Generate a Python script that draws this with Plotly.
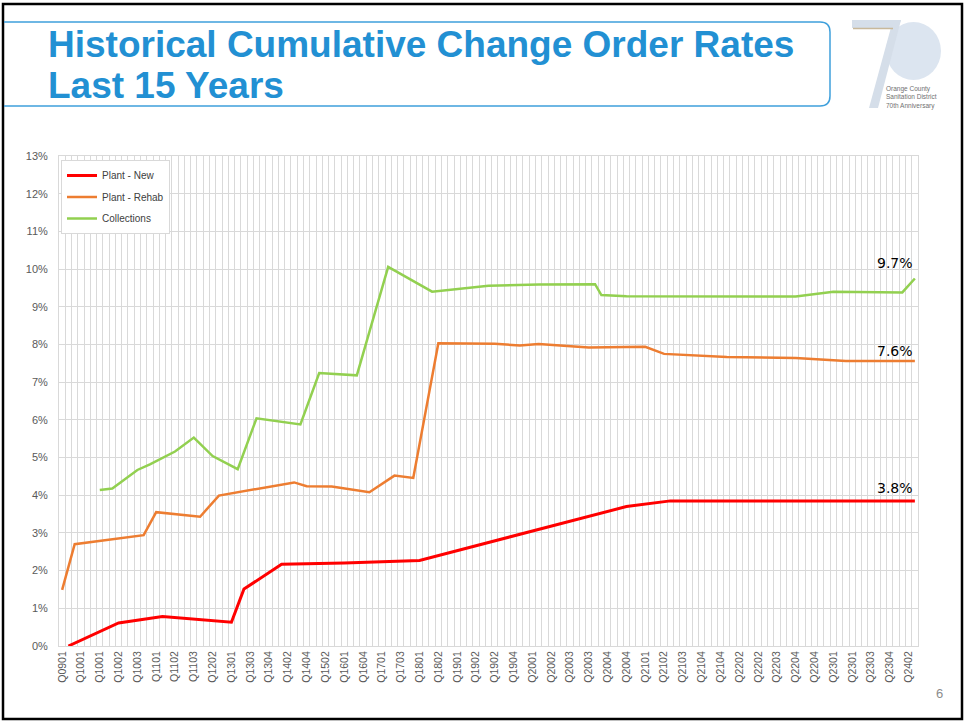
import plotly.graph_objects as go

# quarter labels shown on the axis (every 3rd category)
tick_labels = ["Q0901", "Q1001", "Q1001", "Q1002", "Q1003", "Q1101", "Q1102", "Q1103",
               "Q1202", "Q1301", "Q1303", "Q1304", "Q1402", "Q1404", "Q1502", "Q1601",
               "Q1604", "Q1701", "Q1703", "Q1801", "Q1802", "Q1901", "Q1902", "Q1902",
               "Q1904", "Q2001", "Q2002", "Q2003", "Q2003", "Q2004", "Q2004", "Q2101",
               "Q2102", "Q2103", "Q2104", "Q2104", "Q2202", "Q2202", "Q2203", "Q2204",
               "Q2204", "Q2301", "Q2301", "Q2303", "Q2304", "Q2402"]
n_cat = 137

# category index / cumulative change order rate (%)
new_x = [1, 9, 16, 27, 29, 35, 45, 57, 90, 97, 136]
new_y = [0.0, 0.61, 0.78, 0.63, 1.51, 2.17, 2.20, 2.27, 3.70, 3.85, 3.85]

rehab_x = [0, 2, 13, 15, 22, 25, 37, 39, 43, 49, 53, 56, 60, 69, 73, 76, 84, 93, 96,
           106, 117, 125, 136]
rehab_y = [1.49, 2.70, 2.94, 3.55, 3.43, 3.99, 4.34, 4.24, 4.23, 4.08, 4.52, 4.46, 8.03,
           8.02, 7.97, 8.01, 7.92, 7.94, 7.75, 7.67, 7.64, 7.56, 7.56]

coll_x = [6, 8, 12, 14, 18, 21, 24, 28, 31, 38, 41, 47, 52, 59, 68, 76, 85, 86, 90, 117,
          123, 134, 136]
coll_y = [4.14, 4.18, 4.67, 4.82, 5.16, 5.53, 5.04, 4.69, 6.04, 5.88, 7.24, 7.18, 10.06,
          9.40, 9.56, 9.59, 9.60, 9.31, 9.28, 9.27, 9.40, 9.38, 9.75]

end_labels = ["3.8%", "7.6%", "9.7%"]

# plot area in page pixels
L, R, T, B = 59, 918, 156, 646


def px(x):
    return (x - L) / (R - L)


def py(y):
    return (B - y) / (B - T)


fig = go.Figure()
fig.add_trace(go.Scatter(x=new_x, y=new_y, mode="lines", name="Plant - New",
                         legendgroup="a", line=dict(color="#FF0000", width=3)))
fig.add_trace(go.Scatter(x=rehab_x, y=rehab_y, mode="lines", name="Plant - Rehab",
                         legendgroup="b", line=dict(color="#ED7D31", width=2.5)))
fig.add_trace(go.Scatter(x=coll_x, y=coll_y, mode="lines", name="Collections",
                         legendgroup="c", line=dict(color="#92D050", width=2.5)))

grid = "#D9D9D9"
fig.update_xaxes(range=[-0.5, n_cat - 0.5], tickmode="array",
                 tickvals=list(range(0, 3 * len(tick_labels), 3)), ticktext=tick_labels,
                 tickangle=-90, showgrid=False, ticks="",
                 minor=dict(tickmode="linear", tick0=0.5, dtick=1, showgrid=True,
                            gridcolor=grid, gridwidth=1),
                 showline=True, linecolor=grid, mirror=True, zeroline=False,
                 tickfont=dict(family="Liberation Sans, Arial", size=10.5, color="#595959"))
fig.update_yaxes(range=[0, 13], dtick=1, ticksuffix="%", showgrid=True, gridcolor=grid,
                 showline=True, linecolor=grid, mirror=True, zeroline=False, ticks="",
                 ticklabelstandoff=8,
                 tickfont=dict(family="Liberation Sans, Arial", size=11, color="#595959"))

ann = []
for lab, yy, ys in zip(end_labels, [new_y[-1], rehab_y[-1], coll_y[-1]], [13, 10, 16]):
    ann.append(dict(x=n_cat - 1, y=yy, xref="x", yref="y", text=lab, showarrow=False,
                    xanchor="right", yanchor="middle", yshift=ys,
                    font=dict(family="DejaVu Sans", size=14, color="#000000")))

title_font = dict(family="Liberation Sans, Arial", size=37, color="#2290D3")
ann.append(dict(x=px(46), y=py(45), xref="paper", yref="paper", xanchor="left",
                yanchor="middle", showarrow=False,
                text="<b>Historical Cumulative Change Order Rates</b>", font=title_font))
ann.append(dict(x=px(46), y=py(85), xref="paper", yref="paper", xanchor="left",
                yanchor="middle", showarrow=False, text="<b>Last 15 Years</b>",
                font=title_font))
ann.append(dict(x=px(884), y=py(97), xref="paper", yref="paper", xanchor="left",
                yanchor="middle", showarrow=False, align="left",
                text="Orange County<br>Sanitation District<br>70th Anniversary",
                font=dict(family="Liberation Sans Narrow, Arial", size=6.5, color="#707070")))
ann.append(dict(x=px(945), y=py(703), xref="paper", yref="paper", showarrow=False,
                text="6", font=dict(family="Liberation Sans, Arial", size=13, color="#8C8C8C")))

shapes = [
    # slide frame
    dict(type="rect", xref="paper", yref="paper", x0=px(3), x1=px(962), y0=py(4), y1=py(719),
         line=dict(color="#000000", width=2.5), layer="above"),
    # title box
    dict(type="path", xref="paper", yref="paper",
         path="M {0},{1} L {2},{1} Q {3},{1} {3},{4} L {3},{5} Q {3},{6} {2},{6} L {0},{6}".format(
             px(4), py(22), px(820), px(830), py(32), py(96), py(106)),
         line=dict(color="#3FA0DC", width=1.5)),
    # logo circle
    dict(type="circle", xref="paper", yref="paper", x0=px(886), x1=px(941), y0=py(22),
         y1=py(80), fillcolor="#DCE5F0", line=dict(width=0)),
    # logo seven
    dict(type="path", xref="paper", yref="paper",
         path="M {},{} L {},{} L {},{} L {},{} Z".format(px(852), py(20), px(901), py(20),
                                                       px(898), py(28), px(852), py(28)),
         fillcolor="#D5DEE9", line=dict(width=0)),
    dict(type="path", xref="paper", yref="paper",
         path="M {},{} L {},{} L {},{} L {},{} Z".format(px(893), py(20), px(901), py(20),
                                                       px(878), py(108), px(869), py(108)),
         fillcolor="#D5DEE9", line=dict(width=0)),
    dict(type="line", xref="paper", yref="paper", x0=px(853), x1=px(893), y0=py(28.5),
         y1=py(28.5), line=dict(color="#C8B89A", width=1.5)),
]

fig.update_layout(
    width=965, height=721,
    margin=dict(l=L, r=965 - R, t=T, b=721 - B),
    paper_bgcolor="white", plot_bgcolor="white",
    showlegend=True,
    legend=dict(x=px(61), y=py(160), xanchor="left", yanchor="top",
                bgcolor="white", bordercolor=grid, borderwidth=1, tracegroupgap=2.5,
                font=dict(family="Liberation Sans, Arial", size=10, color="#404040"),
                itemwidth=30, entrywidth=75),
    annotations=ann, shapes=shapes,
)

# drop the default page margin so the figure sits at the window's corner
fig.write_html("out.html", config={"displayModeBar": False},
               post_script="document.body.style.margin='0';")
